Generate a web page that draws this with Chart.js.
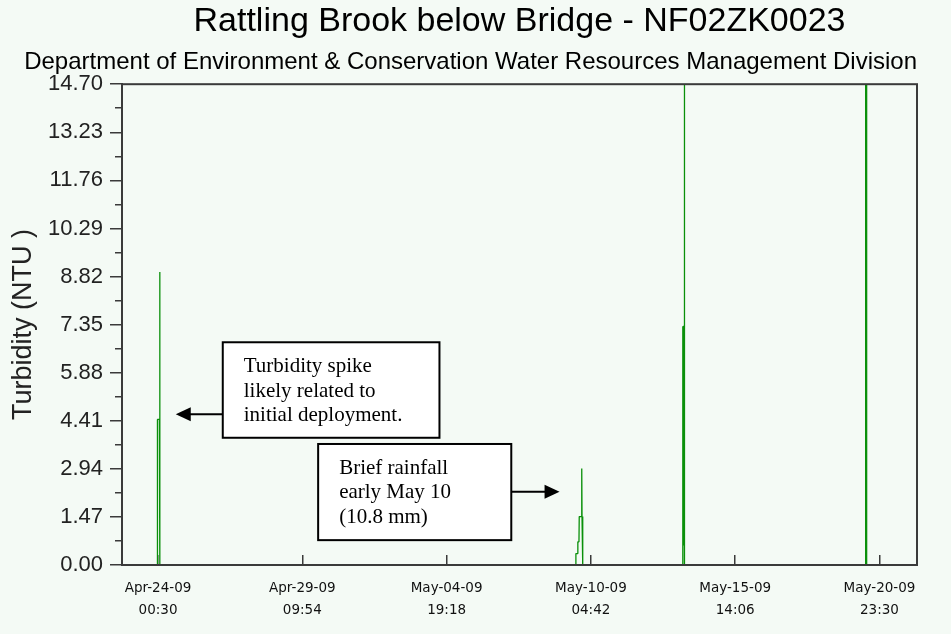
<!DOCTYPE html>
<html>
<head>
<meta charset="utf-8">
<title>Rattling Brook below Bridge - NF02ZK0023</title>
<script src="https://cdn.jsdelivr.net/npm/chart.js@4.4.1/dist/chart.umd.min.js"></script>
<style>
  html, body { margin: 0; padding: 0; background: #f4faf5; }
  #wrap { width: 951px; height: 634px; position: relative; }
</style>
</head>
<body>
<div id="wrap"><canvas id="turbidityChart"></canvas></div>
<script>
// turbidity readings (NTU), logger time
const readingTimes = [
  '2009-04-22 16:15',
  '2009-04-23 23:45', '2009-04-24 00:00', '2009-04-24 01:45', '2009-04-24 02:00', '2009-04-24 02:15',
  '2009-05-09 15:00', '2009-05-09 15:15', '2009-05-09 16:45', '2009-05-09 17:00', '2009-05-09 18:00',
  '2009-05-09 18:15', '2009-05-09 20:15', '2009-05-09 20:30', '2009-05-09 20:45', '2009-05-09 21:15',
  '2009-05-09 21:30',
  '2009-05-13 14:45', '2009-05-13 15:00', '2009-05-13 15:15', '2009-05-13 15:30', '2009-05-13 15:45',
  '2009-05-13 16:00', '2009-05-13 16:15', '2009-05-13 16:30', '2009-05-13 16:45',
  '2009-05-20 10:45', '2009-05-20 11:00', '2009-05-20 11:15', '2009-05-20 11:30', '2009-05-20 11:45',
  '2009-05-20 12:00', '2009-05-20 12:15',
  '2009-05-22 09:00'
];
const turbidity = [
  0,
  0, 4.45, 4.45, 8.96, 0,
  0, 0.35, 0.35, 0.71, 0.71,
  1.48, 1.48, 2.95, 1.48, 1.48,
  0,
  0, 7.3, 0.4, 7.3, 0.6,
  7.3, 7.3, 18.5, 0,
  0, 19.2, 0.3, 21.4, 0.5,
  20.1, 0,
  0
];
const xTickTimes = ['2009-04-24 00:30', '2009-04-29 09:54', '2009-05-04 19:18',
                    '2009-05-10 04:42', '2009-05-15 14:06', '2009-05-20 23:30'];
const xRange = ['2009-04-22 16:12', '2009-05-22 09:09'];
const yMajor = [0, 1.47, 2.94, 4.41, 5.88, 7.35, 8.82, 10.29, 11.76, 13.23, 14.70];
const yMinor = [0.735, 2.205, 3.675, 5.145, 6.615, 8.085, 9.555, 11.025, 12.495, 13.965];

const notes = [
  { lines: ['Turbidity spike', 'likely related to', 'initial deployment.'],
    left: '2009-04-26 10:34', right: '2009-05-04 12:54', top: 6.81, bottom: 3.89,
    tipTime: '2009-04-24 16:24', tipValue: 4.61 },
  { lines: ['Brief rainfall', 'early May 10', '(10.8 mm)'],
    left: '2009-04-30 00:06', right: '2009-05-07 05:18', top: 3.70, bottom: 0.76,
    tipTime: '2009-05-09 00:36', tipValue: 2.24 }
];

const bg = '#f4faf5';
const axisColor = '#3a3a3a';
const months = ['Jan','Feb','Mar','Apr','May','Jun','Jul','Aug','Sep','Oct','Nov','Dec'];

function toMs(s) {
  const [d, t] = s.split(' ');
  const [Y, M, D] = d.split('-').map(Number);
  const [h, m] = t.split(':').map(Number);
  return Date.UTC(Y, M - 1, D, h, m);
}
function pad(n) { return String(n).padStart(2, '0'); }
function tickLabel(ms) {
  const d = new Date(ms);
  return [months[d.getUTCMonth()] + '-' + pad(d.getUTCDate()) + '-' + pad(d.getUTCFullYear() % 100),
          pad(d.getUTCHours()) + ':' + pad(d.getUTCMinutes())];
}

const points = readingTimes.map((t, i) => ({ x: toMs(t), y: turbidity[i] }));

const framePlugin = {
  id: 'frame',
  beforeDraw(chart) {
    const ctx = chart.ctx;
    ctx.save();
    ctx.fillStyle = bg;
    ctx.fillRect(0, 0, chart.width, chart.height);
    ctx.restore();
  },
  afterDraw(chart) {
    const { ctx, chartArea: a, scales: { x, y } } = chart;
    ctx.save();
    ctx.strokeStyle = axisColor;
    ctx.lineWidth = 2;
    ctx.strokeRect(a.left, a.top, a.right - a.left, a.bottom - a.top);

    // callout boxes with arrows
    ctx.strokeStyle = '#000';
    notes.forEach(n => {
      const l = x.getPixelForValue(toMs(n.left)), r = x.getPixelForValue(toMs(n.right));
      const t = y.getPixelForValue(n.top), b = y.getPixelForValue(n.bottom);
      const tx = x.getPixelForValue(toMs(n.tipTime)), ty = y.getPixelForValue(n.tipValue);
      const dir = tx < l ? -1 : 1;
      const fromX = dir < 0 ? l : r;
      ctx.lineWidth = 2;
      ctx.fillStyle = '#000';
      ctx.beginPath();
      ctx.moveTo(fromX, ty);
      ctx.lineTo(tx - dir * 12, ty);
      ctx.stroke();
      ctx.beginPath();
      ctx.moveTo(tx, ty);
      ctx.lineTo(tx - dir * 15, ty - 7);
      ctx.lineTo(tx - dir * 15, ty + 7);
      ctx.closePath();
      ctx.fill();
      ctx.fillStyle = '#fff';
      ctx.fillRect(l, t, r - l, b - t);
      ctx.strokeRect(l, t, r - l, b - t);
      ctx.fillStyle = '#000';
      ctx.font = '21px "Liberation Serif"';
      ctx.textBaseline = 'alphabetic';
      ctx.textAlign = 'left';
      n.lines.forEach((s, i) => ctx.fillText(s, l + 21, t + 30 + i * 24.5));
    });
    ctx.restore();
  }
};

const ctx = document.getElementById('turbidityChart').getContext('2d');
const turbidityChart = new Chart(ctx, {
  type: 'line',
  data: {
    datasets: [{
      label: 'Turbidity',
      data: points,
      borderColor: '#0a900a',
      borderWidth: 1.3,
      borderJoinStyle: 'bevel',
      pointRadius: 0,
      tension: 0,
      clip: 0
    }]
  },
  options: {
    responsive: true,
    maintainAspectRatio: false,
    animation: false,
    events: [],
    layout: { padding: { left: 0, right: 34, top: 0, bottom: 0 } },
    plugins: {
      legend: { display: false },
      tooltip: { enabled: false },
      title: {
        display: true,
        fullSize: false,
        text: 'Rattling Brook below Bridge - NF02ZK0023',
        color: '#000',
        font: { family: 'Liberation Sans', size: 34, weight: 'normal' },
        padding: { top: 1, bottom: 0 }
      },
      subtitle: {
        display: true,
        fullSize: true,
        align: 'end',
        text: 'Department of Environment & Conservation Water Resources Management Division',
        color: '#000',
        font: { family: 'Liberation Sans', size: 24, weight: 'normal' },
        padding: { top: 6, bottom: 7.6 }
      }
    },
    scales: {
      x: {
        type: 'linear',
        min: toMs(xRange[0]),
        max: toMs(xRange[1]),
        afterBuildTicks: s => { s.ticks = xTickTimes.map(v => ({ value: toMs(v) })); },
        afterFit: s => { s.height = 69; },
        border: { display: true, color: axisColor, width: 2, z: 1 },
        grid: { drawOnChartArea: false, drawTicks: true, tickLength: -10, color: axisColor, lineWidth: 1.5 },
        ticks: {
          autoSkip: false,
          maxRotation: 0,
          padding: 22.5,
          color: '#111',
          font: { family: 'DejaVu Sans', size: 13.5, lineHeight: '22px' },
          callback: v => tickLabel(v)
        }
      },
      y: {
        position: 'left',
        weight: 1,
        min: 0,
        max: 14.7,
        afterBuildTicks: s => { s.ticks = yMajor.map(v => ({ value: v })); },
        afterFit: s => { s.width = 122; },
        border: { display: true, color: axisColor, width: 2, z: 1 },
        grid: { drawOnChartArea: false, tickLength: 12, color: axisColor, lineWidth: 1.5 },
        ticks: {
          padding: 7,
          color: '#222',
          font: { family: 'Liberation Sans', size: 22 },
          callback: v => v.toFixed(2)
        },
        title: {
          display: true,
          text: 'Turbidity (NTU )',
          color: '#222',
          font: { family: 'Liberation Sans', size: 27 },
          padding: { top: 7, bottom: 0 }
        }
      },
      yMinor: {
        position: 'left',
        weight: 0,
        min: 0,
        max: 14.7,
        afterBuildTicks: s => { s.ticks = yMinor.map(v => ({ value: v })); },
        afterFit: s => { s.width = 0; },
        border: { display: false },
        grid: { drawOnChartArea: false, tickLength: 7, color: axisColor, lineWidth: 1.5 },
        ticks: { display: false }
      }
    }
  },
  plugins: [framePlugin]
});
</script>
</body>
</html>
